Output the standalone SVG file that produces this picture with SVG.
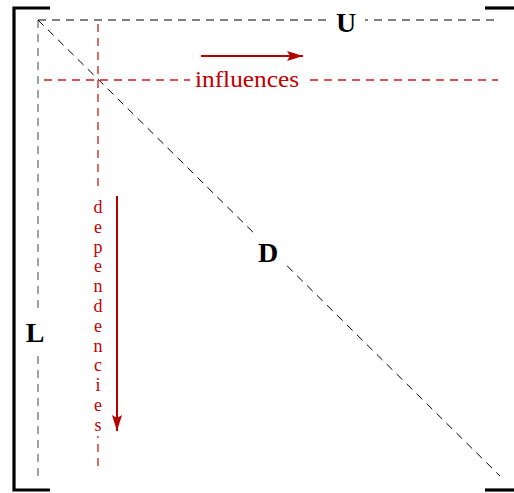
<svg xmlns="http://www.w3.org/2000/svg" width="514" height="493" viewBox="0 0 514 493">
<style>
.br{stroke:#000;stroke-width:3.2;fill:none}
.dk{stroke:#000;stroke-width:1;stroke-dasharray:8 6;fill:none}
.gr{stroke:#666;stroke-width:1.2;stroke-dasharray:8 6;fill:none}
.rd{stroke:#c81e1e;stroke-width:1.3;stroke-dasharray:8 6;fill:none}
.ar{stroke:#b50000;stroke-width:2;fill:none}
.lab{font-family:"Liberation Serif","DejaVu Serif",serif;font-weight:bold;font-size:28px;fill:#000;text-anchor:middle}
.rt{font-family:"Liberation Serif","DejaVu Serif",serif;font-size:23px;fill:#c00000;text-anchor:middle}
.rv{font-family:"Liberation Serif","DejaVu Serif",serif;font-size:18px;fill:#c00000;text-anchor:middle}
</style>
<defs>
<marker id="ah" viewBox="0 0 16 10" refX="16" refY="5" markerWidth="16" markerHeight="10" markerUnits="userSpaceOnUse" orient="auto">
<path d="M0,0 L16,5 L0,10 L3,5 Z" fill="#b50000"/>
</marker>
</defs>
<g id="brackets">
<path class="br" d="M50,8 H14 V490 H50"/>
<path class="br" d="M485,8 H514"/>
<path class="br" d="M485,490 H514"/>
</g>
<g id="connectors">
<line class="dk" x1="38" y1="20" x2="498" y2="20"/>
<line class="gr" x1="38" y1="20" x2="38" y2="476"/>
<line class="dk" x1="38" y1="20" x2="500" y2="476"/>
<line class="rd" x1="44" y1="80" x2="498" y2="80"/>
<line class="rd" x1="98" y1="24" x2="98" y2="472"/>
<line class="ar" x1="201" y1="56" x2="303" y2="56" marker-end="url(#ah)"/>
<line class="ar" x1="117" y1="196" x2="117" y2="431" marker-end="url(#ah)"/>
</g>
<g id="U">
<rect x="328" y="8" width="37" height="26" fill="#fff"/>
<text class="lab" x="346" y="32">U</text>
</g>
<g id="D">
<rect x="250" y="234" width="37" height="34" fill="#fff"/>
<text class="lab" x="268" y="262">D</text>
</g>
<g id="L">
<rect x="22" y="314" width="30" height="36" fill="#fff"/>
<text class="lab" x="35" y="342">L</text>
</g>
<g id="influences">
<rect x="190" y="68" width="116" height="26" fill="#fff"/>
<text class="rt" x="247" y="87" textLength="104" lengthAdjust="spacingAndGlyphs">influences</text>
</g>
<g id="dependencies">
<rect x="88" y="192" width="20" height="244" fill="#fff"/>
<text class="rv" x="98" y="213"><tspan x="98" y="213">d</tspan><tspan x="98" y="232.8">e</tspan><tspan x="98" y="252.6">p</tspan><tspan x="98" y="272.4">e</tspan><tspan x="98" y="292.2">n</tspan><tspan x="98" y="312">d</tspan><tspan x="98" y="331.8">e</tspan><tspan x="98" y="351.6">n</tspan><tspan x="98" y="371.4">c</tspan><tspan x="98" y="391.2">i</tspan><tspan x="98" y="411">e</tspan><tspan x="98" y="430.8">s</tspan></text>
</g>
</svg>
